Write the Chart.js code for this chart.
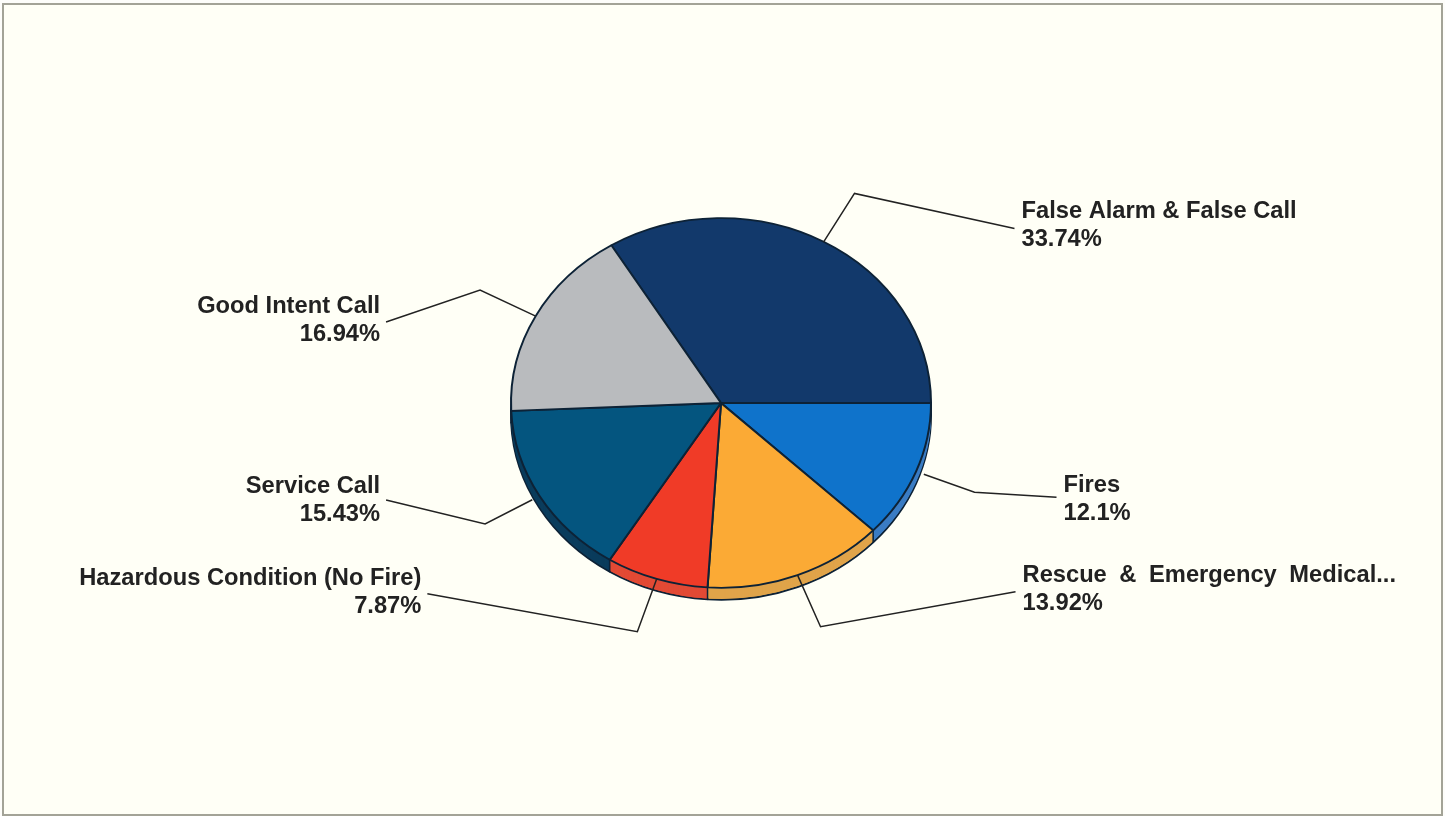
<!DOCTYPE html>
<html lang="en">
<head>
    <meta charset="UTF-8">
    <title>Incident Types</title>
    <script src="https://cdn.jsdelivr.net/npm/chart.js"></script>
    <style>
        body {
            margin: 0;
            background-color: #fdfdfa;
        }
        .panel {
            position: absolute;
            left: 2px;
            top: 3px;
            width: 1437px;
            height: 809px;
            background-color: #fffff6;
            border: 2px solid #a3a397;
            box-sizing: content-box;
        }
        #pieChart {
            position: absolute;
            left: 0;
            top: 0;
            display: block;
        }
    </style>
</head>
<body>
    <div class="panel"></div>
    <canvas id="pieChart" width="1445" height="816"></canvas>

    <script>
        const categories = ['False Alarm & False Call', 'Fires', 'Rescue & Emergency Medical...', 'Hazardous Condition (No Fire)', 'Service Call', 'Good Intent Call'];
        const percents = [33.74, 12.1, 13.92, 7.87, 15.43, 16.94];
        const sliceColors = ['#12396b', '#0f73cb', '#fbaa35', '#f03b27', '#04557f', '#b9bbbe'];
        const rimColors = ['#0c2a50', '#3a7cc4', '#e0a44a', '#e24a35', '#0a3c5c', '#8f9194'];

        const squash = 0.88;   // pie is tilted, so vertical radius is shorter
        const depth = 12;
        const outline = '#0d2236';
        const elbowRatio = 1.3;

        // label anchor relative to the elbow of each leader line
        const labelOffsets = [[167, 32], [89, 7], [202, -37], [-216, -39], [-105, -23], [-100, 30]];
        // where the leader meets the label, relative to the label's middle
        const leaderEndDy = [3, -2, 2, 1, -1, 2];
        // the Rescue label is set with wider gaps between words
        const wordGaps = ['0px', '0px', '6px', '0px', '0px', '0px'];

        function withTilt(ctx, area, dy, fn) {
            const cy = (area.top + area.bottom) / 2;
            ctx.save();
            ctx.translate(0, cy + dy);
            ctx.scale(1, squash);
            ctx.translate(0, -cy);
            fn();
            ctx.restore();
        }

        function drawArcWith(arc, ctx, opts) {
            const saved = arc.options;
            arc.options = Object.assign({}, saved, opts);
            arc.draw(ctx);
            arc.options = saved;
        }

        const tiltPlugin = {
            id: 'tilt',
            beforeDatasetsDraw(chart) {
                const ctx = chart.ctx;
                const arcs = chart.getDatasetMeta(0).data;
                const area = chart.chartArea;

                // side wall of the pie
                withTilt(ctx, area, depth, () => {
                    arcs.forEach((arc, i) => drawArcWith(arc, ctx, { backgroundColor: rimColors[i], borderColor: outline, borderWidth: 2 }));
                });
                for (let d = depth - 1; d >= 0; d--) {
                    withTilt(ctx, area, d, () => {
                        arcs.forEach((arc, i) => drawArcWith(arc, ctx, { backgroundColor: rimColors[i], borderWidth: 0 }));
                    });
                }
                // edges between slices on the wall
                ctx.save();
                ctx.strokeStyle = outline;
                ctx.lineWidth = 1.5;
                arcs.forEach(arc => {
                    if (Math.sin(arc.startAngle) > 0) {
                        const x = arc.x + arc.outerRadius * Math.cos(arc.startAngle);
                        const y = arc.y + squash * arc.outerRadius * Math.sin(arc.startAngle);
                        ctx.beginPath();
                        ctx.moveTo(x, y);
                        ctx.lineTo(x, y + depth);
                        ctx.stroke();
                    }
                });
                ctx.restore();

                // top face goes through the normal dataset draw, squashed
                const cy = (area.top + area.bottom) / 2;
                ctx.save();
                ctx.translate(0, cy);
                ctx.scale(1, squash);
                ctx.translate(0, -cy);
            },
            afterDatasetsDraw(chart) {
                const ctx = chart.ctx;
                ctx.restore();

                const arcs = chart.getDatasetMeta(0).data;
                ctx.save();
                arcs.forEach((arc, i) => {
                    const mid = (arc.startAngle + arc.endAngle) / 2;
                    const cos = Math.cos(mid);
                    const sin = Math.sin(mid);
                    // on the sides the wall hides the first bit of the leader
                    const startRatio = (sin > 0 && Math.abs(cos) > 0.7) ? 1.04 : 1;
                    const sx = arc.x + startRatio * arc.outerRadius * cos;
                    const sy = arc.y + squash * startRatio * arc.outerRadius * sin;
                    const ex = arc.x + elbowRatio * arc.outerRadius * cos;
                    const ey = arc.y + squash * elbowRatio * arc.outerRadius * sin;
                    const lx = ex + labelOffsets[i][0];
                    const ly = ey + labelOffsets[i][1];
                    const onRight = cos > 0;

                    ctx.strokeStyle = '#222222';
                    ctx.lineWidth = 1.5;
                    ctx.beginPath();
                    ctx.moveTo(sx, sy);
                    ctx.lineTo(ex, ey);
                    ctx.lineTo(lx + (onRight ? -7 : 6), ly + leaderEndDy[i]);
                    ctx.stroke();

                    ctx.fillStyle = '#222222';
                    ctx.font = 'bold 23.7px "Liberation Sans", Arial, sans-serif';
                    ctx.textAlign = onRight ? 'left' : 'right';
                    ctx.textBaseline = 'middle';
                    ctx.wordSpacing = wordGaps[i];
                    ctx.fillText(categories[i], lx, ly - 14);
                    ctx.wordSpacing = '0px';
                    ctx.fillText(percents[i] + '%', lx, ly + 14);
                });
                ctx.restore();
            }
        };

        new Chart(document.getElementById('pieChart').getContext('2d'), {
            type: 'pie',
            data: {
                labels: categories,
                datasets: [{
                    data: percents,
                    backgroundColor: sliceColors,
                    borderColor: outline,
                    borderWidth: 2
                }]
            },
            options: {
                responsive: false,
                animation: false,
                rotation: -31.46,
                layout: { padding: { left: 510, right: 513, top: 192, bottom: 202 } },
                plugins: {
                    legend: { display: false },
                    tooltip: { enabled: false },
                    title: { display: false }
                }
            },
            plugins: [tiltPlugin]
        });
    </script>
</body>
</html>
